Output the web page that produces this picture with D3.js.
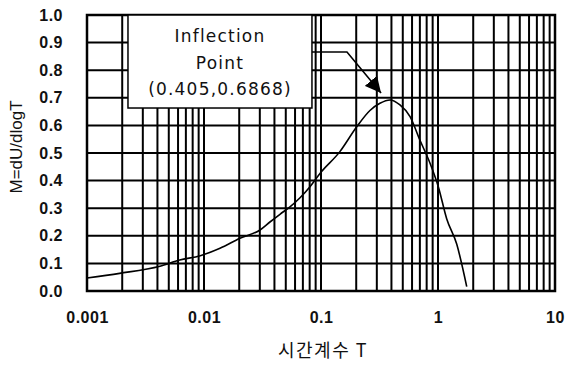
<!DOCTYPE html>
<html>
<head>
<meta charset="utf-8">
<script src="https://cdn.jsdelivr.net/npm/d3@7"></script>
<style>
  body { margin: 0; background: #fff; }
  svg { display: block; }
  .tick-label { font-family: "Liberation Sans", Arial, sans-serif; font-size: 16px; font-weight: bold; fill: #111; letter-spacing: 0.5px; }
  .axis-title { font-family: "Liberation Sans", Arial, sans-serif; font-size: 17px; fill: #111; }
  .note { font-family: "DejaVu Sans", sans-serif; font-size: 17px; fill: #111; letter-spacing: 1.2px; }
</style>
</head>
<body>
<svg width="565" height="365"></svg>
<script>
// curve
const timeT = [0.001, 0.0019, 0.0042, 0.0062, 0.0093, 0.0137, 0.0203, 0.0301, 0.0366, 0.0446, 0.0543,
  0.0662, 0.0805, 0.098, 0.145, 0.202, 0.262, 0.319, 0.389, 0.473, 0.577, 0.70, 0.855, 1.006, 1.186, 1.445, 1.76];
const valueM = [0.047, 0.064, 0.09, 0.112, 0.128, 0.155, 0.191, 0.221, 0.250, 0.278, 0.305,
  0.338, 0.378, 0.426, 0.505, 0.595, 0.654, 0.680, 0.692, 0.674, 0.632, 0.547, 0.463, 0.378, 0.262, 0.170, 0.016];

const xTicks = [0.001, 0.01, 0.1, 1, 10];
const yTicks = [0, 0.1, 0.2, 0.3, 0.4, 0.5, 0.6, 0.7, 0.8, 0.9, 1.0];
const noteLines = ['Inflection', 'Point', '(0.405,0.6868)'];

const svg = d3.select('svg');
const margin = {left: 87, top: 15, right: 10, bottom: 74};
const width = 565 - margin.left - margin.right;
const height = 365 - margin.top - margin.bottom;

const chart = svg.append('g')
  .attr('transform', `translate(${margin.left}, ${margin.top})`);

const xScale = d3.scaleLog().domain([0.001, 10]).range([0, width]);
const yScale = d3.scaleLinear().domain([0, 1]).range([height, 0]);

// vertical grid at 1..9 of every decade
const minor = [];
for (let e = -3; e < 1; e++) {
  for (let k = 1; k <= 9; k++) minor.push(k * Math.pow(10, e));
}
chart.append('g')
  .selectAll('line')
  .data(minor)
  .enter()
  .append('line')
  .attr('x1', d => xScale(d)).attr('x2', d => xScale(d))
  .attr('y1', 0).attr('y2', height)
  .attr('stroke', '#000').attr('stroke-width', 2);

// horizontal grid
chart.append('g')
  .selectAll('line')
  .data(yTicks)
  .enter()
  .append('line')
  .attr('x1', 0).attr('x2', width)
  .attr('y1', d => yScale(d)).attr('y2', d => yScale(d))
  .attr('stroke', '#000').attr('stroke-width', 2);

chart.append('rect')
  .attr('width', width).attr('height', height)
  .attr('fill', 'none').attr('stroke', '#000').attr('stroke-width', 2.5);

// tick labels
chart.append('g')
  .attr('transform', `translate(0, ${height})`)
  .call(d3.axisBottom(xScale).tickValues(xTicks).tickSize(0).tickPadding(21)
    .tickFormat(d => d >= 1 ? d3.format('d')(d) : String(d)))
  .call(g => g.select('.domain').remove())
  .selectAll('text').attr('class', 'tick-label');

chart.append('g')
  .call(d3.axisLeft(yScale).tickValues(yTicks).tickSize(0).tickPadding(24).tickFormat(d3.format('.1f')))
  .call(g => g.select('.domain').remove())
  .selectAll('text').attr('class', 'tick-label');

// data line
const line = d3.line()
  .x((d, i) => xScale(timeT[i]))
  .y(d => yScale(d))
  .curve(d3.curveMonotoneX);

chart.append('path')
  .datum(valueM)
  .attr('d', line)
  .attr('fill', 'none')
  .attr('stroke', '#000')
  .attr('stroke-width', 1.6);

// annotation box
const box = {x0: 0.00224, x1: 0.0837, y0: 1.0, y1: 0.663};
chart.append('rect')
  .attr('x', xScale(box.x0))
  .attr('y', yScale(box.y0))
  .attr('width', xScale(box.x1) - xScale(box.x0))
  .attr('height', yScale(box.y1) - yScale(box.y0))
  .attr('fill', '#fff')
  .attr('stroke', '#000')
  .attr('stroke-width', 1.5);

const cx = (xScale(box.x0) + xScale(box.x1)) / 2;
chart.append('g')
  .selectAll('text')
  .data(noteLines)
  .enter()
  .append('text')
  .attr('class', 'note')
  .attr('x', cx)
  .attr('y', (d, i) => 27 + i * 26.5)
  .attr('text-anchor', 'middle')
  .text(d => d);

// arrow from the box to the peak
svg.append('defs').append('marker')
  .attr('id', 'head')
  .attr('viewBox', '0 0 10 10')
  .attr('refX', 10).attr('refY', 5)
  .attr('markerWidth', 10).attr('markerHeight', 10)
  .attr('markerUnits', 'strokeWidth')
  .attr('orient', 'auto')
  .append('path')
  .attr('d', 'M0,0 L10,5 L0,10 Z')
  .attr('fill', '#000');

const arrowPts = [[box.x1, 0.866], [0.1667, 0.866], [0.326, 0.717]];
chart.append('path')
  .attr('d', d3.line().x(d => xScale(d[0])).y(d => yScale(d[1]))(arrowPts))
  .attr('fill', 'none')
  .attr('stroke', '#000')
  .attr('stroke-width', 1.6)
  .attr('marker-end', 'url(#head)');

// axis titles
svg.append('text')
  .attr('class', 'axis-title')
  .attr('transform', `translate(22, ${margin.top + height / 2 - 6}) rotate(-90)`)
  .attr('text-anchor', 'middle')
  .text('M=dU/dlogT');

svg.append('text')
  .attr('class', 'axis-title')
  .attr('x', 323)
  .attr('y', 357)
  .attr('text-anchor', 'middle')
  .style('font-family', '"Noto Sans CJK KR", sans-serif')
  .style('font-size', '18px')
  .style('letter-spacing', '1.5px')
  .text('시간계수 T');
</script>
</body>
</html>
